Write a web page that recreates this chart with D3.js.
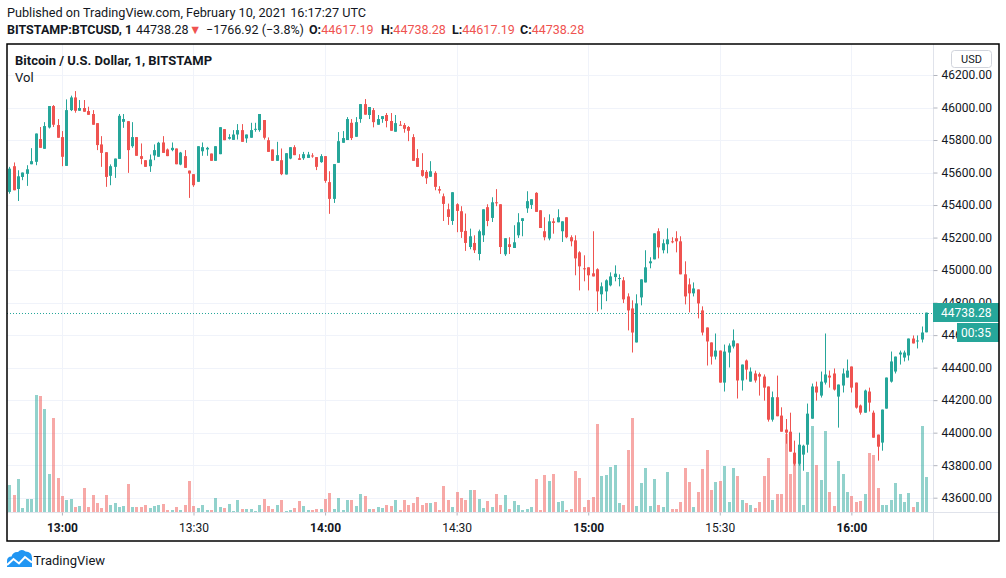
<!DOCTYPE html>
<html><head><meta charset="utf-8">
<script src="https://cdn.jsdelivr.net/npm/d3@7"></script>
<style>
body{margin:0;background:#fff;}
svg{display:block;font-family:Roboto,"Noto Sans",sans-serif;}
</style>
</head><body>
<svg id="chart" width="1006" height="578"></svg>
<script>
// ---------- DATA ----------
const startTime = Date.UTC(2021, 1, 10, 12, 48); // first 1-minute candle
const open = [
45481,45639,45499,45573,45592,45651,45666,45806,45746,45877,
46009,45892,45818,45641,45984,46062,45980,45997,45978,45960,
45904,45773,45725,45580,45635,45684,45912,45916,45762,45818,
45701,45676,45639,45705,45697,45785,45742,45738,45748,45649,
45701,45612,45590,45543,45731,45742,45717,45672,45713,45867,
45808,45801,45834,45861,45810,45814,45863,45861,45923,45799,
45742,45672,45676,45588,45686,45756,45688,45688,45690,45705,
45695,45664,45701,45541,45438,45660,45783,45800,45906,45820,
45929,46021,45954,45984,45894,45929,45954,45917,45851,45894,
45892,45880,45818,45689,45615,45604,45574,45598,45498,45454,
45374,45302,45405,45362,45241,45142,45167,45099,45214,45387,
45321,45417,45405,45097,45159,45136,45214,45302,45380,45401,
45475,45368,45239,45194,45300,45294,45239,45325,45202,45183,
45109,45011,45017,44980,45005,44851,44869,44906,44957,44945,
44937,44838,44764,44555,44832,44924,45042,45066,45239,45122,
45159,45177,45196,45177,44974,44912,44857,44881,44752,44647,
44555,44468,44505,44308,44493,44530,44549,44321,44444,44314,
44364,44360,44345,44284,44080,44218,44105,44019,44006,43877,
43809,43865,43926,44086,44284,44228,44308,44351,44364,44222,
44290,44339,44407,44308,44167,44123,44253,44123,43988,43939,
44148,44314,44376,44481,44462,44475,44579,44563,44573,44617.19];
const high = [
45635,45662,45614,45600,45645,45750,45840,45880,45910,46009,
46015,45929,45855,46050,46073,46101,46046,46046,46005,45984,
45904,45824,45725,45650,45686,45960,45960,45916,45910,45818,
45779,45676,45711,45773,45789,45824,45748,45785,45748,45727,
45738,45612,45590,45762,45785,45758,45717,45762,45879,45867,
45836,45861,45898,45898,45834,45906,45906,45960,45923,45816,
45742,45789,45748,45719,45756,45768,45713,45727,45727,45719,
45695,45713,45701,45608,45652,45849,45855,45941,45929,45941,
46021,46052,46003,45997,45954,45947,45966,45966,45954,45917,
45904,45886,45836,45744,45719,45615,45670,45608,45516,45471,
45409,45479,45411,45393,45348,45255,45214,45249,45374,45405,
45448,45498,45405,45196,45202,45276,45350,45319,45485,45436,
45479,45368,45325,45343,45319,45374,45300,45325,45214,45214,
45116,45091,45017,45239,45011,44924,44943,44986,45029,44974,
44957,44857,44814,44851,44943,45122,45079,45226,45257,45189,
45257,45202,45239,45208,45054,44949,44924,44881,44777,44647,
44555,44610,44505,44542,44549,44635,44549,44419,44450,44401,
44382,44370,44358,44284,44253,44351,44156,44084,44123,43951,
44000,43926,44179,44302,44314,44376,44610,44382,44395,44296,
44395,44450,44407,44308,44173,44265,44277,44136,43988,44142,
44339,44499,44468,44505,44505,44579,44598,44598,44653,44738.28];
const low = [
45470,45491,45425,45553,45518,45651,45645,45752,45746,45871,
45880,45814,45639,45641,45978,45968,45980,45974,45955,45894,
45738,45635,45512,45522,45567,45684,45875,45598,45752,45703,
45651,45635,45604,45676,45697,45721,45701,45731,45651,45645,
45629,45444,45512,45543,45703,45703,45672,45672,45713,45799,
45803,45801,45803,45789,45783,45814,45851,45851,45803,45727,
45672,45672,45584,45588,45682,45707,45678,45678,45690,45691,
45615,45660,45537,45346,45413,45660,45783,45800,45800,45820,
45906,45956,45929,45878,45894,45906,45878,45857,45851,45890,
45845,45793,45672,45635,45574,45530,45574,45491,45471,45302,
45278,45278,45233,45198,45118,45128,45105,45060,45173,45270,
45296,45393,45099,45087,45099,45136,45198,45208,45352,45376,
45358,45259,45183,45183,45224,45294,45173,45196,45146,44968,
44875,44931,44875,44961,44746,44758,44809,44900,44931,44900,
44797,44629,44493,44555,44783,44924,45011,45066,45072,45103,
45103,45165,45109,44974,44789,44740,44838,44703,44598,44413,
44419,44450,44308,44253,44401,44518,44210,44259,44327,44314,
44308,44228,44197,44068,44068,44101,44006,43932,43883,43797,
43797,43766,43877,44086,44197,44216,44296,44277,44259,44031,
44247,44339,44247,44148,44111,44123,44130,43969,43828,43889,
44148,44308,44364,44419,44438,44444,44549,44518,44555,44617.19];
const close = [
45624,45491,45577,45600,45620,45670,45840,45752,45886,46009,
45894,45814,45697,45984,46062,45980,45997,45974,45955,45894,
45769,45721,45573,45639,45686,45949,45929,45738,45818,45703,
45684,45635,45680,45738,45783,45721,45701,45752,45651,45723,
45629,45594,45522,45762,45756,45752,45672,45762,45879,45799,
45818,45834,45861,45789,45834,45861,45869,45960,45814,45727,
45672,45707,45590,45719,45756,45707,45678,45713,45711,45699,
45635,45701,45549,45438,45652,45793,45812,45929,45812,45910,
46021,45956,46003,45910,45929,45947,45917,45857,45904,45890,
45869,45857,45672,45635,45580,45565,45608,45512,45489,45407,
45327,45479,45364,45235,45167,45208,45122,45239,45374,45302,
45417,45411,45142,45196,45142,45171,45294,45319,45424,45436,
45358,45259,45202,45300,45290,45325,45300,45202,45177,45072,
45023,45007,44968,44961,44869,44900,44937,44961,44978,44951,
44820,44752,44616,44795,44943,45017,45054,45226,45140,45165,
45189,45171,45177,44974,44838,44857,44887,44795,44616,44561,
44468,44505,44308,44499,44536,44567,44321,44419,44388,44376,
44321,44345,44277,44080,44218,44101,44006,44000,43883,43809,
43926,43920,44117,44284,44247,44314,44358,44339,44265,44296,
44364,44382,44277,44154,44123,44259,44185,43969,43914,44142,
44339,44438,44468,44493,44493,44579,44549,44567,44616,44738.28];
const volume = [
81,51,99,12,39,39,351,348,309,114,282,102,48,36,39,15,18,72,15,51,
27,12,51,21,27,15,18,84,15,15,15,21,12,18,21,
24,6,6,15,6,21,93,18,12,21,6,6,42,15,12,24,3,36,9,9,
9,3,21,39,18,9,21,36,3,6,12,33,18,6,6,
9,9,39,57,9,42,6,36,36,18,54,48,9,9,15,12,21,18,36,6,
36,21,27,45,21,27,27,30,6,78,36,15,60,42,36,
66,66,39,12,33,15,54,21,51,9,33,21,6,9,15,99,6,111,93,114,
30,33,6,9,123,102,15,36,45,264,108,111,135,141,27,
21,186,282,18,87,132,18,99,21,15,120,9,9,30,132,90,15,60,129,186,
66,90,93,138,30,132,108,36,27,21,12,30,108,162,36,
54,54,234,114,156,171,21,120,258,141,96,243,60,18,153,114,60,48,30,33,
54,177,171,72,21,21,36,87,54,30,57,15,30,258,105];
const timeTicks = ["13:00","13:30","14:00","14:30","15:00","15:30","16:00"];
const priceTicks = [43600,43800,44000,44200,44400,44600,44800,45000,45200,45400,45600,45800,46000,46200];
const lastPrice = 44738.28;
const countdown = "00:35";
const headerTitle = "Published on TradingView.com, February 10, 2021 16:17:27 UTC";
const symbolLine = {sym:"BITSTAMP:BTCUSD, 1", price:"44738.28", change:"\u22121766.92 (\u22123.8%)",
  o:"44617.19", h:"44738.28", l:"44617.19", c:"44738.28"};
const legendTitle = "Bitcoin / U.S. Dollar, 1, BITSTAMP";

// ---------- LAYOUT ----------
const UP = "#26a69a", DOWN = "#ef5350", TXT = "#131722", GRID = "#f0f3fa";
const L = 7, R = 933, T = 44, B = 512, FR = 999, FB = 541;
const svg = d3.select("#chart");

const times = open.map((_, i) => new Date(startTime + i * 60000));
const candles = open.map((o, i) => ({t: times[i], o, h: high[i], l: low[i], c: close[i], v: volume[i]}));

const x = d3.scaleTime().domain([times[0], times[times.length - 1]]).range([9.3, 925.9]);
const y = d3.scaleLinear().domain([43600, 46200]).range([497.7, 75]);
const yv = d3.scaleLinear().domain([0, 360]).range([B, 392]);
const tickDates = timeTicks.map(s => { const [hh, mm] = s.split(":").map(Number); return new Date(Date.UTC(2021, 1, 10, hh, mm)); });

svg.append("defs").append("clipPath").attr("id", "plot")
  .append("rect").attr("x", L).attr("y", T).attr("width", R - L).attr("height", B - T);

// grid
const grid = svg.append("g");
grid.selectAll(".vg").data(tickDates).join("line")
  .attr("x1", d => Math.round(x(d)) + 0.5).attr("x2", d => Math.round(x(d)) + 0.5)
  .attr("y1", T).attr("y2", B).attr("stroke", GRID).attr("stroke-width", 1);
grid.selectAll(".hg").data(priceTicks).join("line")
  .attr("x1", L).attr("x2", R).attr("y1", d => Math.round(y(d)) + 0.5).attr("y2", d => Math.round(y(d)) + 0.5)
  .attr("stroke", GRID).attr("stroke-width", 1);

const plot = svg.append("g").attr("clip-path", "url(#plot)");
const cx = d => Math.round(x(d.t));
const isUp = d => d.c >= d.o;

// volume
plot.append("g").selectAll("rect").data(candles).join("rect")
  .attr("x", d => cx(d) - 1).attr("width", 3)
  .attr("y", d => yv(d.v)).attr("height", d => B - yv(d.v))
  .attr("fill", d => isUp(d) ? UP : DOWN).attr("fill-opacity", 0.5);

// last price dotted line
plot.append("line").attr("x1", L).attr("x2", R)
  .attr("y1", Math.round(y(lastPrice)) + 0.5).attr("y2", Math.round(y(lastPrice)) + 0.5)
  .attr("stroke", UP).attr("stroke-width", 1).attr("stroke-dasharray", "1,2");

// candles
const cg = plot.append("g");
cg.selectAll("line").data(candles).join("line")
  .attr("x1", d => cx(d) + 0.5).attr("x2", d => cx(d) + 0.5)
  .attr("y1", d => y(d.h)).attr("y2", d => y(d.l))
  .attr("stroke", d => isUp(d) ? UP : DOWN).attr("stroke-width", 1);
cg.selectAll("rect").data(candles).join("rect")
  .attr("x", d => cx(d) - 1).attr("width", 3)
  .attr("y", d => y(Math.max(d.o, d.c)))
  .attr("height", d => Math.max(1, Math.abs(y(d.o) - y(d.c))))
  .attr("fill", d => isUp(d) ? UP : DOWN);

// separators
svg.append("line").attr("x1", L).attr("x2", FR).attr("y1", B + 0.5).attr("y2", B + 0.5).attr("stroke", "#e0e3eb");
svg.append("line").attr("x1", R + 0.5).attr("x2", R + 0.5).attr("y1", T).attr("y2", FB).attr("stroke", "#e0e3eb");

// price axis
const ya = svg.append("g").attr("transform", `translate(${R + 0.5},0)`)
  .call(d3.axisRight(y).tickValues(priceTicks).tickSize(4).tickPadding(4).tickFormat(d3.format(".2f")));
ya.select(".domain").remove();
ya.selectAll(".tick line").attr("stroke", "#b2b5be");
ya.selectAll(".tick text").attr("fill", TXT).style("font-size", "12px").style("font-family", "Roboto");

// time axis
const xa = svg.append("g").attr("transform", `translate(0,${B + 0.5})`)
  .call(d3.axisBottom(x).tickValues(tickDates).tickSize(3).tickPadding(8).tickFormat((d, i) => timeTicks[i]));
xa.select(".domain").remove();
xa.selectAll(".tick line").attr("stroke", "#b2b5be");
xa.selectAll(".tick text").attr("fill", TXT).style("font-size", "12px").style("font-family", "Roboto")
  .style("font-weight", (d, i) => timeTicks[i].endsWith(":00") ? "bold" : "normal");

// last price label + countdown (they cover parts of the 44800 / 44600 labels, as in the original)
svg.append("rect").attr("x", R).attr("y", 303).attr("width", FR - R).attr("height", 19).attr("fill", UP);
svg.append("text").attr("x", 941).attr("y", 316.5).attr("fill", "#fff").style("font-size", "12px").text(lastPrice.toFixed(2));
svg.append("rect").attr("x", 957).attr("y", 323).attr("width", FR - 957).attr("height", 19).attr("fill", UP);
svg.append("text").attr("x", 961).attr("y", 336.5).attr("fill", "#fff").style("font-size", "12px").text(countdown);

// USD box
svg.append("rect").attr("x", 951.5).attr("y", 50.5).attr("width", 40).attr("height", 17).attr("rx", 3)
  .attr("fill", "#fff").attr("stroke", "#d1d4dc");
svg.append("text").attr("x", 971.5).attr("y", 63).attr("text-anchor", "middle").attr("fill", TXT)
  .style("font-size", "11px").text("USD");

// legend inside pane
svg.append("text").attr("x", 15).attr("y", 65).attr("fill", TXT).style("font-size", "13px")
  .style("font-weight", "bold").text(legendTitle);
svg.append("text").attr("x", 15).attr("y", 82).attr("fill", TXT).style("font-size", "13px").text("Vol");

// frame
svg.append("rect").attr("x", L).attr("y", T).attr("width", FR - L).attr("height", FB - T)
  .attr("fill", "none").attr("stroke", "#000").attr("stroke-width", 1.5);

// header
svg.append("text").attr("x", 7).attr("y", 17).attr("fill", TXT).style("font-size", "12.7px").text(headerTitle);
const h2 = svg.append("text").attr("x", 7).attr("y", 34).attr("fill", TXT).style("font-size", "12.5px");
h2.append("tspan").style("font-weight", "bold").text(symbolLine.sym);
h2.append("tspan").attr("x", 136).text(symbolLine.price);
h2.append("tspan").attr("x", 189).attr("fill", DOWN).text("\u25BC");
h2.append("tspan").attr("x", 206).text(symbolLine.change);
const seg = [["O:", symbolLine.o, 309], ["H:", symbolLine.h, 381], ["L:", symbolLine.l, 452], ["C:", symbolLine.c, 520]];
seg.forEach(([k, v, px]) => {
  h2.append("tspan").attr("x", px).style("font-weight", "bold").text(k);
  h2.append("tspan").attr("fill", DOWN).text(v);
});

// TradingView logo
const logo = svg.append("g");
logo.append("path").attr("fill", "#2196f3")
  .attr("d", "M7,567 L7,561 Q7,556.5 11.5,556.5 Q13,551.5 18,552 Q21,548.5 25.5,551.5 Q32,551.5 32,558 L32,567 Z");
logo.append("polyline").attr("fill", "none").attr("stroke", "#fff").attr("stroke-width", 2)
  .attr("points", "7,565 13.5,559 19,563.5 25,557 32,562.5");
svg.append("text").attr("x", 33.5).attr("y", 565).attr("fill", TXT).style("font-size", "13px").text("TradingView");
</script>
</body></html>
